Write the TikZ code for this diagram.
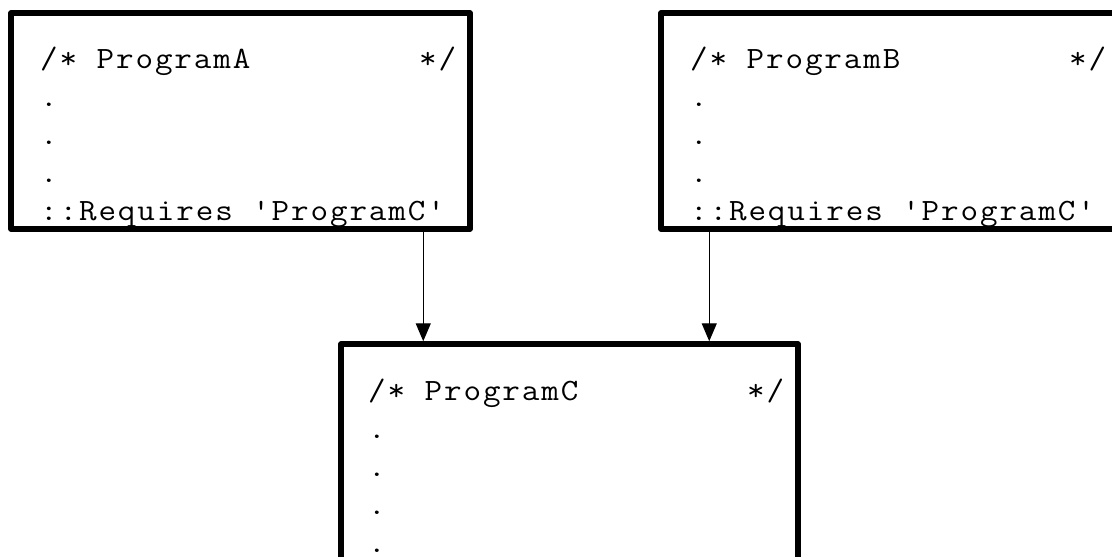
\documentclass[tikz,border=0pt]{standalone}
\usepackage{fontspec}
\setmonofont{Latin Modern Mono}[FakeStretch=1.1,LetterSpace=6.1]
\usetikzlibrary{arrows.meta}
\begin{document}
\begin{tikzpicture}[x=1pt,y=-1pt]
\tikzset{
  box/.style={draw, line width=5.5pt, rectangle, inner sep=0pt, line join=round},
  code/.style={font=\ttfamily\fontsize{31}{38}\selectfont, align=left, inner sep=0pt, anchor=base west},
  arr/.style={line width=1.3pt, -{Triangle[length=18pt,width=15pt]}}
}
\useasboundingbox (0,0) rectangle (1112,557);
\clip (0,0) rectangle (1112,557);
\node[box, minimum width=459pt, minimum height=216pt] (boxA) at (240.5,121) {};
\node[box, minimum width=470pt, minimum height=216pt] (boxB) at (896,121) {};
\node[box, minimum width=457pt, minimum height=256pt] (boxC) at (569.5,472) {};
\node[code] (textA) at (40,220) {\makebox[416pt][l]{/* ProgramA\hfill*/}\\.\\.\\.\\::Requires 'ProgramC'};
\node[code] (textB) at (690,220) {\makebox[416pt][l]{/* ProgramB\hfill*/}\\.\\.\\.\\::Requires 'ProgramC'};
\node[code] (textC) at (368,552) {\makebox[416pt][l]{/* ProgramC\hfill*/}\\.\\.\\.\\.};
\draw[arr] ([xshift=415pt]boxA.south west) -- ([xshift=85pt]boxC.north west);
\draw[arr] ([xshift=51pt]boxB.south west) -- ([xshift=371pt]boxC.north west);
\end{tikzpicture}
\end{document}
